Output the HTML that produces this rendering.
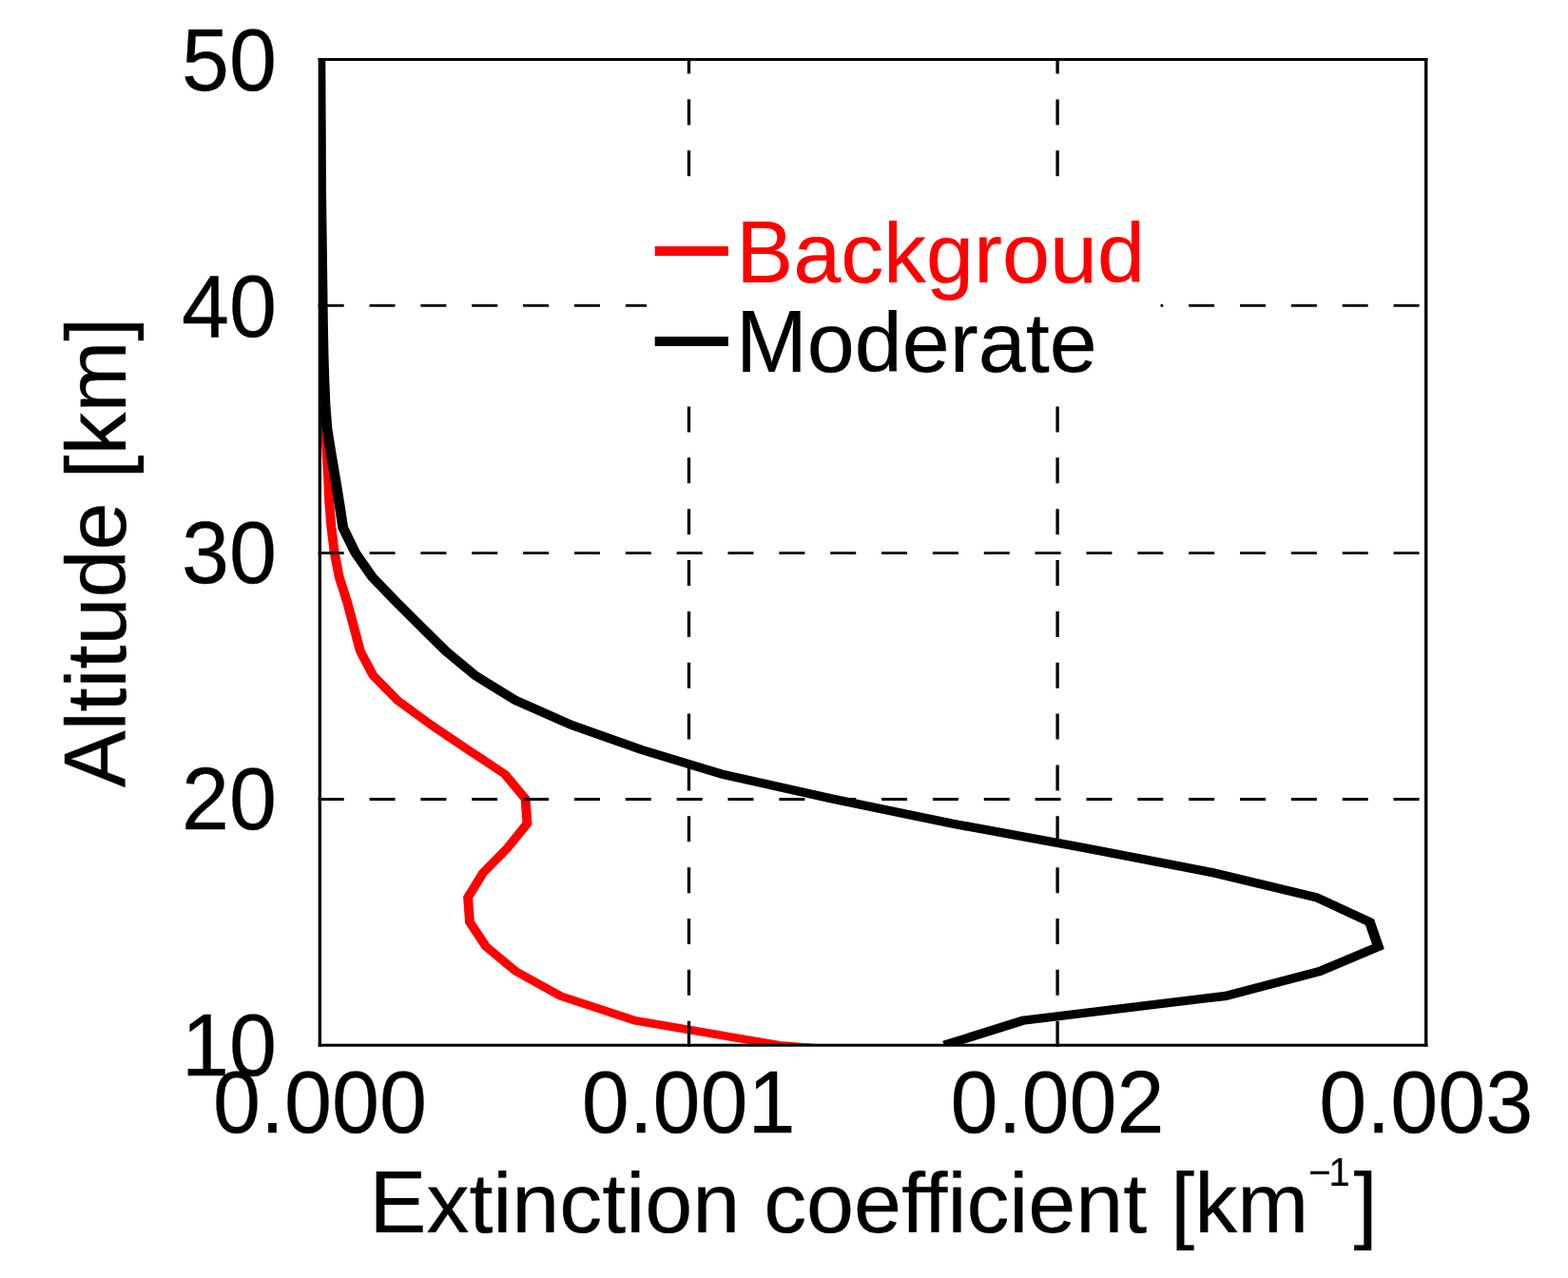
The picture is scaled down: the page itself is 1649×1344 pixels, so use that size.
<!DOCTYPE html><html><head><meta charset="utf-8"><style>html,body{margin:0;padding:0;background:#fff;}svg{display:block;}</style></head><body><svg width="1649" height="1344" viewBox="0 0 1649 1344" font-family="'Liberation Sans', Arial, sans-serif">
<rect width="1649" height="1344" fill="#fff"/>
<defs><clipPath id="pa"><rect x="336.35" y="62.55" width="1163.35" height="1036.65"/></clipPath></defs>
<g clip-path="url(#pa)"><g transform="scale(1.08 0.925)" fill="none" stroke-width="9.3" stroke-linejoin="miter" stroke-miterlimit="10" stroke-linecap="butt">
<polyline points="1059.26,1216.34 759.26,1188.32 618.52,1160.31 545.74,1132.30 502.31,1104.29 473.33,1076.28 457.41,1048.27 455.65,1020.26 470.37,992.25 493.98,964.24 513.43,936.23 511.57,908.22 491.67,880.21 455.56,852.19 419.91,824.18 387.04,796.17 363.43,768.16 350.74,740.15 344.44,712.14 337.96,684.13 330.28,656.12 325.65,628.11 322.69,600.10 320.65,572.09 319.63,544.08 318.15,516.06 317.13,488.05 314.81,432.03 313.43,348.00 312.50,207.95 312.04,67.89" stroke="#ff0000" stroke-width="9.2"/>
<polyline points="919.54,1188.32 995.83,1160.31 1193.52,1132.30 1285.19,1104.29 1342.04,1076.28 1333.80,1048.27 1281.94,1020.26 1181.30,992.25 1057.69,964.24 926.67,936.23 810.19,908.22 702.96,880.21 624.07,852.19 556.20,824.18 502.04,796.17 462.96,768.16 433.98,740.15 409.81,712.14 385.65,684.13 362.50,656.12 345.83,628.11 334.07,600.10 330.37,572.09 326.48,544.08 322.41,516.06 318.52,488.05 316.67,460.04 315.65,432.03 314.91,404.02 314.44,376.01 314.07,348.00 313.24,272.37 312.50,207.95 311.94,67.89" stroke="#000" stroke-width="10"/>
</g></g>
<g stroke="#000" stroke-dasharray="27 26.85" fill="none">
<line x1="334.7" y1="321.35" x2="1499.7" y2="321.35" stroke-width="2.9"/>
<line x1="334.7" y1="581.65" x2="1499.7" y2="581.65" stroke-width="2.9"/>
<line x1="334.7" y1="840.5" x2="1499.7" y2="840.5" stroke-width="2.9"/>
<line x1="724.5" y1="1100.7" x2="724.5" y2="62.55" stroke-width="3.3"/>
<line x1="1112.1" y1="1100.7" x2="1112.1" y2="62.55" stroke-width="3.3"/>
</g>
<rect x="680" y="200" width="540.5" height="215" fill="#fff"/>
<line x1="688.7" y1="264.1" x2="765.9" y2="264.1" stroke="#ff0000" stroke-width="10"/>
<line x1="688.7" y1="358.9" x2="765.9" y2="358.9" stroke="#000" stroke-width="10"/>
<text transform="translate(774.2 296.8) scale(1 0.983)" font-size="89.9" fill="#ff0000" stroke="#ff0000" stroke-width="0.25"><tspan font-size="95.11" textLength="59.96" lengthAdjust="spacingAndGlyphs">B</tspan>ackgroud</text>
<text transform="translate(773.9 391.0) scale(1 0.983)" font-size="89.9" fill="#000" stroke="#000" stroke-width="0.25"><tspan font-size="95.11" textLength="74.89" lengthAdjust="spacingAndGlyphs">M</tspan>oderate</text>
<g fill="#000">
<rect x="334.68" y="61.05" width="1166.70" height="3.0"/>
<rect x="334.68" y="1097.70" width="1166.70" height="3.0"/>
<rect x="334.68" y="61.05" width="3.35" height="1039.65"/>
<rect x="1498.03" y="61.05" width="3.35" height="1039.65"/>
</g>
<text transform="translate(291 94.8) scale(1 1.04)" text-anchor="end" font-size="89.9" fill="#000" stroke="#000" stroke-width="0.25" >50</text>
<text transform="translate(291 353.9) scale(1 1.04)" text-anchor="end" font-size="89.9" fill="#000" stroke="#000" stroke-width="0.25" >40</text>
<text transform="translate(291 613.0) scale(1 1.04)" text-anchor="end" font-size="89.9" fill="#000" stroke="#000" stroke-width="0.25" >30</text>
<text transform="translate(291 872.1) scale(1 1.04)" text-anchor="end" font-size="89.9" fill="#000" stroke="#000" stroke-width="0.25" >20</text>
<text transform="translate(291 1130.9) scale(1 1.04)" text-anchor="end" font-size="89.9" fill="#000" stroke="#000" stroke-width="0.25" >10</text>
<text transform="translate(336.4 1191.2) scale(1 1.04)" text-anchor="middle" font-size="89.9" fill="#000" stroke="#000" stroke-width="0.25" >0.000</text>
<text transform="translate(724.1 1191.2) scale(1 1.04)" text-anchor="middle" font-size="89.9" fill="#000" stroke="#000" stroke-width="0.25" >0.001</text>
<text transform="translate(1111.9 1191.2) scale(1 1.04)" text-anchor="middle" font-size="89.9" fill="#000" stroke="#000" stroke-width="0.25" >0.002</text>
<text transform="translate(1499.7 1191.2) scale(1 1.04)" text-anchor="middle" font-size="89.9" fill="#000" stroke="#000" stroke-width="0.25" >0.003</text>
<text transform="translate(388.5 1295.8) scale(1 0.983)" font-size="89.9" fill="#000" stroke="#000" stroke-width="0.25"><tspan font-size="95.11" textLength="59.96" lengthAdjust="spacingAndGlyphs">E</tspan>xtinction coefficient [km<tspan x="987.70" y="-49.54" font-size="42.32" textLength="23.36" lengthAdjust="spacingAndGlyphs">−</tspan><tspan x="1009.00" y="-49.54" font-size="42.32" textLength="22.25" lengthAdjust="spacingAndGlyphs">1</tspan><tspan x="1035.00" y="0">]</tspan></text>
<text transform="translate(131.8 828.3) rotate(-90) scale(1 0.983)" font-size="89.9" stroke="#000" stroke-width="0.25"><tspan font-size="95.11" textLength="59.96" lengthAdjust="spacingAndGlyphs">A</tspan>ltitude [km]</text>
</svg></body></html>
